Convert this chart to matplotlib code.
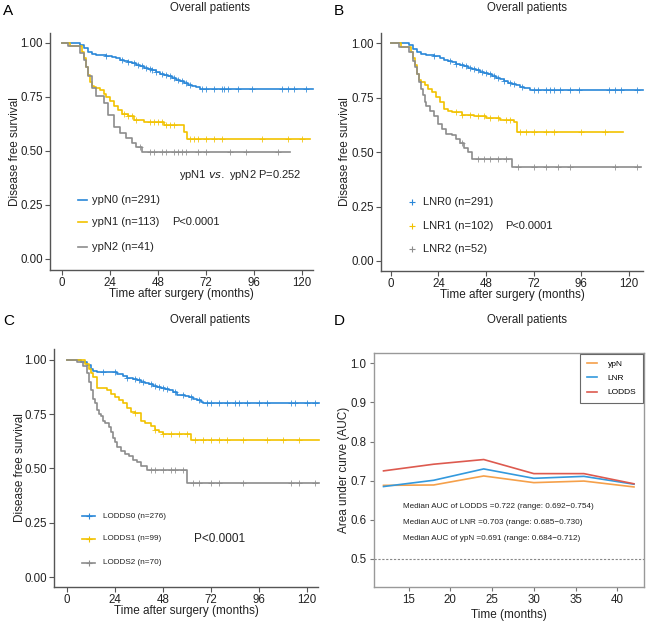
import numpy as np
import matplotlib.pyplot as plt
from matplotlib.lines import Line2D

plt.rcParams['font.family'] = ['Liberation Sans', 'DejaVu Sans']

W, H = 646, 624

BLUE = '#2a87d8'
YELLOW = '#f2c200'
GRAY = '#8c8c8c'

# ---- KM data (step times in months, survival after each step) ----
# Panel A: ypN
ypn0_t = [0, 9, 11, 13, 15, 17, 22, 25, 27, 29, 31, 33, 35, 37, 39, 41, 43, 45, 47, 49, 51, 53, 55, 57, 59, 61, 63, 65, 67, 69]
ypn0_s = [1.0, 0.99, 0.975, 0.96, 0.95, 0.944, 0.94, 0.935, 0.93, 0.922, 0.917, 0.912, 0.907, 0.9, 0.893, 0.886, 0.88, 0.874,
          0.866, 0.858, 0.852, 0.845, 0.836, 0.828, 0.822, 0.815, 0.806, 0.8, 0.794, 0.787]
ypn0_cens = [22, 30, 33, 36, 38, 40, 42, 44, 45, 47, 50, 52, 54, 56, 58, 60, 62, 64, 70, 72, 76, 80, 81, 83, 88, 95, 110, 113, 116, 122]
ypn1_t = [0, 4, 10, 11, 12, 13, 14, 15, 16, 17, 19, 21, 22, 24, 26, 28, 30, 33, 36, 41, 51, 61, 62.5]
ypn1_s = [1.0, 0.985, 0.96, 0.93, 0.89, 0.85, 0.82, 0.80, 0.795, 0.79, 0.78, 0.765, 0.75, 0.73, 0.71, 0.69, 0.67, 0.66, 0.645,
          0.635, 0.619, 0.59, 0.556]
ypn1_cens = [31, 33, 35, 37, 44, 46, 48, 50, 52, 54, 56, 64, 66, 68, 72, 76, 80, 100, 113, 120]
ypn2_t = [0, 3, 9, 11, 12, 13, 15, 17, 21, 23, 26, 29, 32, 35, 37, 40]
ypn2_s = [1.0, 0.985, 0.954, 0.92, 0.89, 0.846, 0.79, 0.753, 0.722, 0.668, 0.61, 0.583, 0.56, 0.537, 0.52, 0.494]
ypn2_cens = [39, 44, 46, 50, 52, 56, 58, 60, 62, 68, 72, 84, 92, 108]
ypn_end = [125.5, 124, 114]

# Panel B: LNR
lnr0_t = [0, 9, 11, 13, 15, 18, 22, 25, 27, 29, 31, 33, 35, 37, 39, 41, 43, 45, 47, 49, 51, 53, 55, 57, 59, 61, 63, 65, 67, 70]
lnr0_s = [1.0, 0.99, 0.975, 0.962, 0.952, 0.945, 0.94, 0.932, 0.925, 0.918, 0.912, 0.906, 0.9, 0.894, 0.888, 0.882, 0.876, 0.87,
          0.864, 0.858, 0.85, 0.842, 0.835, 0.826, 0.818, 0.812, 0.806, 0.8, 0.794, 0.786]
lnr0_cens = [22, 30, 33, 36, 38, 40, 42, 44, 46, 48, 50, 52, 54, 57, 60, 62, 66, 72, 74, 78, 80, 82, 85, 90, 95, 110, 113, 116, 124]
lnr1_t = [0, 5, 10, 11, 12, 13, 14, 15, 17, 19, 21, 23, 25, 27, 29, 31, 36, 42, 48, 55, 62, 63.5]
lnr1_s = [1.0, 0.985, 0.96, 0.93, 0.9, 0.86, 0.83, 0.82, 0.81, 0.79, 0.775, 0.755, 0.73, 0.70, 0.69, 0.686, 0.672, 0.665, 0.658,
          0.649, 0.64, 0.594]
lnr1_cens = [33, 36, 40, 44, 47, 50, 54, 58, 60, 65, 68, 72, 78, 82, 96, 108]
lnr2_t = [0, 4, 9, 11, 12, 13, 14, 15, 16, 17, 18, 20, 22, 24, 26, 28, 31, 33, 35, 37, 39, 41, 61]
lnr2_s = [1.0, 0.985, 0.96, 0.92, 0.89, 0.86, 0.82, 0.79, 0.76, 0.73, 0.71, 0.69, 0.665, 0.63, 0.605, 0.585, 0.578, 0.56, 0.54,
          0.52, 0.50, 0.47, 0.433]
lnr2_cens = [36, 44, 47, 50, 54, 58, 64, 72, 78, 84, 90, 113, 124]
lnr_end = [127, 117, 126]

# Panel C: LODDS
lod0_t = [0, 7, 10, 12, 13, 15, 25, 28, 30, 33, 35, 37, 39, 41, 43, 45, 47, 49, 51, 53, 55, 57, 59, 61, 63, 65, 67, 68]
lod0_s = [1.0, 0.99, 0.975, 0.96, 0.95, 0.945, 0.935, 0.925, 0.915, 0.91, 0.905, 0.9, 0.895, 0.89, 0.88, 0.875, 0.87, 0.865,
          0.86, 0.85, 0.84, 0.838, 0.835, 0.83, 0.822, 0.815, 0.808, 0.80]
lod0_cens = [18, 24, 30, 34, 36, 38, 42, 44, 46, 48, 50, 54, 58, 62, 66, 70, 72, 76, 80, 84, 86, 90, 96, 100, 112, 114, 120, 124]
lod1_t = [0, 9, 11, 12, 13, 15, 20, 22, 24, 26, 28, 30, 32, 34, 37, 39, 42, 44, 46, 48, 62]
lod1_s = [1.0, 0.98, 0.96, 0.94, 0.92, 0.87, 0.86, 0.845, 0.83, 0.815, 0.80, 0.78, 0.76, 0.755, 0.72, 0.71, 0.695, 0.675,
          0.67, 0.66, 0.63]
lod1_cens = [34, 44, 48, 52, 56, 60, 64, 68, 72, 76, 80, 88, 100, 108, 116]
lod2_t = [0, 5, 8, 10, 11, 12, 13, 14, 15, 16, 17, 18, 19, 21, 22, 23, 24, 25, 27, 29, 31, 33, 35, 37, 40, 60]
lod2_s = [1.0, 0.99, 0.97, 0.94, 0.9, 0.86, 0.82, 0.8, 0.77, 0.75, 0.74, 0.72, 0.71, 0.69, 0.67, 0.64, 0.62, 0.60, 0.58,
          0.565, 0.555, 0.54, 0.53, 0.51, 0.495, 0.435]
lod2_cens = [42, 44, 48, 52, 54, 58, 63, 66, 72, 76, 88, 112, 116, 124]
lod_end = [126, 126, 126]

# Panel D: time-dependent AUC
auc_time = [12, 18, 24, 30, 36, 42]
auc_ypn = [0.688, 0.689, 0.712, 0.695, 0.699, 0.684]
auc_lnr = [0.685, 0.701, 0.730, 0.706, 0.711, 0.691]
auc_lodds = [0.725, 0.742, 0.754, 0.718, 0.718, 0.692]


def fx(x):
    return x / W


def fy(y):
    return 1 - y / H


def add_axes(l, t, r, b):
    return fig.add_axes([fx(l), fy(b), fx(r) - fx(l), (b - t) / H])


def km(ax, t, s, cens, end, color):
    tt = list(t) + [end]
    ss = list(s) + [s[-1]]
    ax.plot(tt, ss, drawstyle='steps-post', color=color, lw=1.2, clip_on=False)
    c = np.array(cens)
    idx = np.searchsorted(np.array(t), c, side='right') - 1
    ax.plot(c, np.array(s)[idx], ls='none', marker='+', ms=4, mew=0.7, color=color, alpha=0.8)


def km_axes(ax, xlim, ylim, ypad):
    ax.set_xlim(*xlim)
    ax.set_ylim(*ylim)
    ax.set_xticks([0, 24, 48, 72, 96, 120])
    ax.set_yticks([0, 0.25, 0.5, 0.75, 1.0])
    ax.set_yticklabels(['0.00', '0.25', '0.50', '0.75', '1.00'])
    for sp in ['top', 'right']:
        ax.spines[sp].set_visible(False)
    for sp in ['left', 'bottom']:
        ax.spines[sp].set_color('#555555')
        ax.spines[sp].set_linewidth(1.0)
    ax.tick_params(length=3.5, width=0.8, color='#555555', labelsize=8.3, labelcolor='#222222', pad=1.5)
    ax.set_xlabel('Time after surgery (months)', fontsize=8.5, labelpad=-1, color='#222222')
    ax.set_ylabel('Disease free survival', fontsize=8.5, labelpad=ypad, color='#222222')


fig = plt.figure(figsize=(W / 100, H / 100), dpi=100)

# ---------------- A ----------------
axA = add_axes(50, 33, 313, 270)
km(axA, ypn0_t, ypn0_s, ypn0_cens, ypn_end[0], BLUE)
km(axA, ypn1_t, ypn1_s, ypn1_cens, ypn_end[1], YELLOW)
km(axA, ypn2_t, ypn2_s, ypn2_cens, ypn_end[2], GRAY)
km_axes(axA, (-6, 125.5), (-0.051, 1.046), -0.5)

# ---------------- B ----------------
axB = add_axes(381, 33, 643, 271)
km(axB, lnr0_t, lnr0_s, lnr0_cens, lnr_end[0], BLUE)
km(axB, lnr1_t, lnr1_s, lnr1_cens, lnr_end[1], YELLOW)
km(axB, lnr2_t, lnr2_s, lnr2_cens, lnr_end[2], GRAY)
km_axes(axB, (-4.9, 127), (-0.046, 1.047), 0)

# ---------------- C ----------------
axC = add_axes(54, 349, 318, 587)
km(axC, lod0_t, lod0_s, lod0_cens, lod_end[0], BLUE)
km(axC, lod1_t, lod1_s, lod1_cens, lod_end[1], YELLOW)
km(axC, lod2_t, lod2_s, lod2_cens, lod_end[2], GRAY)
km_axes(axC, (-6.5, 125.5), (-0.046, 1.05), -1)

# ---------------- D ----------------
axD = add_axes(373.5, 353, 644, 587)
axD.plot(auc_time, auc_ypn, color='#f5a04a', lw=1.2, label='ypN')
axD.plot(auc_time, auc_lnr, color='#3399dd', lw=1.2, label='LNR')
axD.plot(auc_time, auc_lodds, color='#dd5a4f', lw=1.2, label='LODDS')
axD.axhline(0.5, color='#888888', lw=0.8, ls=(0, (2, 1.5)))
axD.set_xlim(10.8, 43.2)
axD.set_ylim(0.4285, 1.026)
axD.set_xticks([15, 20, 25, 30, 35, 40])
axD.set_yticks([0.5, 0.6, 0.7, 0.8, 0.9, 1.0])
axD.set_yticklabels(['0.5', '0.6', '0.7', '0.8', '0.9', '1.0'])
for sp in axD.spines.values():
    sp.set_color('#999999')
    sp.set_linewidth(1.0)
axD.tick_params(length=3, width=0.8, color='#777777', labelsize=8.3, labelcolor='#222222', pad=2)
axD.set_xlabel('Time (months)', fontsize=8.5, labelpad=2, color='#222222')
axD.set_ylabel('Area under curve (AUC)', fontsize=8.5, labelpad=0.5, color='#222222')
leg = axD.legend(loc='upper right', fontsize=6, frameon=True, fancybox=False, handlelength=1.2,
                 borderpad=0.8, labelspacing=0.75, handletextpad=1.3, borderaxespad=0.1)
leg.get_frame().set_edgecolor('#444444')
leg.get_frame().set_linewidth(0.8)

# ---------------- texts ----------------
for lab, x, y in [('A', 3, 11), ('B', 334, 11), ('C', 3, 321), ('D', 334, 321)]:
    fig.text(fx(x), fy(y), lab, fontsize=11, va='center', ha='left')
for x, y in [(210, 8), (527, 8), (210, 320), (527, 320)]:
    fig.text(fx(x), fy(y), 'Overall patients', fontsize=8.3, ha='center', va='center', color='#222222')


def legend_rows(x_line, x_text, ys, labels, colors, fs, line_len, marker):
    for y, lab, col in zip(ys, labels, colors):
        fig.add_artist(Line2D([fx(x_line), fx(x_line + line_len)], [fy(y), fy(y)], color=col, lw=1.2,
                              transform=fig.transFigure))
        if marker:
            fig.add_artist(Line2D([fx(x_line + line_len / 2)], [fy(y)], color=col, marker='+', ms=4, mew=0.8,
                                  transform=fig.transFigure))
        fig.text(fx(x_text), fy(y), lab, fontsize=fs, va='center', ha='left', color='#222222')


legend_rows(78, 92, [200, 222, 247], ['ypN0 (n=291)', 'ypN1 (n=113)', 'ypN2 (n=41)'],
            [BLUE, YELLOW, GRAY], 8, 9, False)
fig.text(fx(172), fy(222), 'P<0.0001', fontsize=8, va='center', ha='left', color='#222222')
fig.text(fx(179), fy(175), 'ypN1 $\\it{vs.}$ ypN2 P=0.252', fontsize=8, va='center', ha='left', color='#222222')

for y, lab, col in zip([202, 226, 249], ['LNR0 (n=291)', 'LNR1 (n=102)', 'LNR2 (n=52)'], [BLUE, YELLOW, GRAY]):
    fig.add_artist(Line2D([fx(412)], [fy(y)], color=col, marker='+', ms=5, mew=0.8, transform=fig.transFigure))
    fig.text(fx(423), fy(y), lab, fontsize=8, va='center', ha='left', color='#222222')
fig.text(fx(505), fy(226), 'P<0.0001', fontsize=8, va='center', ha='left', color='#222222')

legend_rows(82, 103, [516, 539, 563], ['LODDS0 (n=276)', 'LODDS1 (n=99)', 'LODDS2 (n=70)'],
            [BLUE, YELLOW, GRAY], 5.9, 13, True)
fig.text(fx(194), fy(539), 'P<0.0001', fontsize=8.5, va='center', ha='left', color='#222222')

for y, lab in zip([507, 522, 538], ['Median AUC of LODDS =0.722 (range: 0.692\u22120.754)',
                                    'Median AUC of LNR =0.703 (range: 0.685\u22120.730)',
                                    'Median AUC of ypN =0.691 (range: 0.684\u22120.712)']):
    fig.text(fx(403), fy(y), lab, fontsize=5.9, va='center', ha='left', color='#222222')

fig.savefig('out.png', dpi=100)
